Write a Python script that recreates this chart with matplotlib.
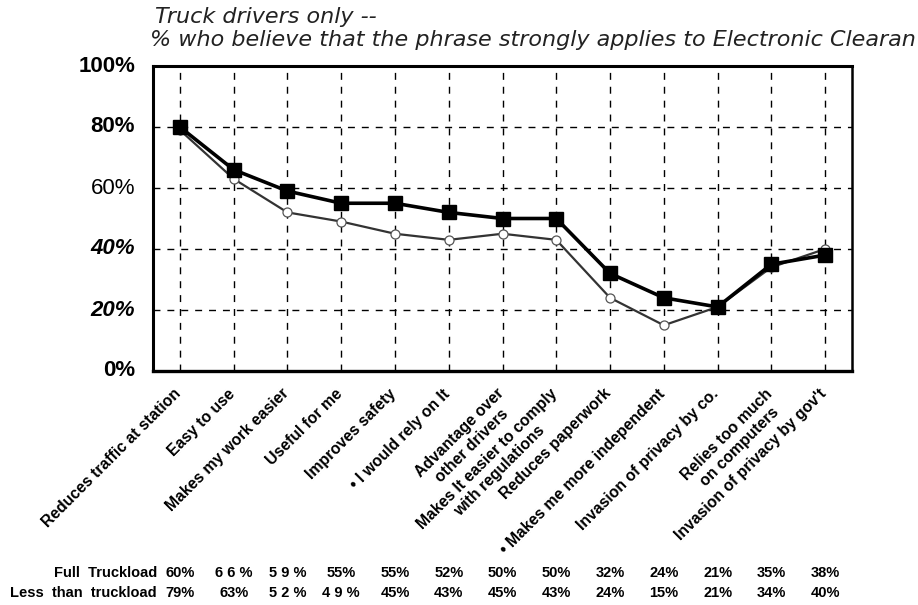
import matplotlib
matplotlib.use("Agg")
import matplotlib.pyplot as plt
import matplotlib.transforms as mtransforms

plt.rcParams['font.family'] = ['Liberation Sans', 'DejaVu Sans']

categories = [
    "Reduces traffic at station",
    "Easy to use",
    "Makes my work easier",
    "Useful for me",
    "Improves safety",
    "\u2022 I would rely on It",
    "Advantage over\nother drivers",
    "Makes It easier to comply\nwith regulations",
    "Reduces paperwork",
    "\u2022 Makes me more independent",
    "Invasion of privacy by co.",
    "Relies too much\non computers",
    "Invasion of privacy by gov't",
]
full_truckload = [80, 66, 59, 55, 55, 52, 50, 50, 32, 24, 21, 35, 38]
less_than_truckload = [79, 63, 52, 49, 45, 43, 45, 43, 24, 15, 21, 34, 40]
full_labels = ["60%", "6 6 %", "5 9 %", "55%", "55%", "52%", "50%", "50%",
               "32%", "24%", "21%", "35%", "38%"]
less_labels = ["79%", "63%", "5 2 %", "4 9 %", "45%", "43%", "45%", "43%",
               "24%", "15%", "21%", "34%", "40%"]
row_names = ["Full  Truckload", "Less  than  truckload"]
yticks = [0, 20, 40, 60, 80, 100]
ytick_labels = ["0%", "20%", "40%", "60%", "80%", "100%"]
title_lines = ["Truck drivers only --",
               "% who believe that the phrase strongly applies to Electronic Clearan"]

W, H = 918, 605
fig = plt.figure(figsize=(W / 100, H / 100), dpi=100)
ax = fig.add_axes([153 / W, 1 - 371 / H, (852 - 153) / W, (371 - 66) / H])

x = list(range(len(categories)))
ax.plot(x, less_than_truckload, color="#333333", lw=1.6, marker="o", ms=6.5,
        mfc="white", mec="#555555", mew=0.9, zorder=3)
ax.plot(x, full_truckload, color="black", lw=2.6, marker="s", ms=10,
        mfc="black", mec="black", zorder=4)

ax.set_xlim(-0.5, len(categories) - 0.5)
ax.set_ylim(0, 100)

for xi in x:
    ax.axvline(xi, color="black", lw=1.0, ls=(0, (5, 5)), zorder=1)
for yv in [20, 40, 60, 80]:
    ax.axhline(yv, color="black", lw=1.0, ls=(0, (5, 5)), zorder=1)

for side, lw in [("top", 2.2), ("left", 2.2), ("bottom", 2.4), ("right", 1.8)]:
    ax.spines[side].set_linewidth(lw)
    ax.spines[side].set_color("black")

ax.set_xticks(x)
ax.set_xticklabels([])
ax.tick_params(axis="x", length=0)
ax.set_yticks(yticks)
ax.set_yticklabels([])
ax.tick_params(axis="y", length=0)

# y tick labels with mixed styles
ystyles = {0: ("bold", "normal"), 20: ("bold", "italic"), 40: ("bold", "italic"),
           60: ("normal", "normal"), 80: ("bold", "normal"), 100: ("bold", "normal")}
ytrans = mtransforms.blended_transform_factory(fig.transFigure, ax.transData)
for yv, lab in zip(yticks, ytick_labels):
    w, s = ystyles[yv]
    ax.text(135 / W, yv, lab, transform=ytrans, ha="right", va="center",
            fontsize=16, fontweight=w, fontstyle=s, color="black")

# category labels
off = mtransforms.ScaledTranslation(0, -15 / 100, fig.dpi_scale_trans)
xtrans = mtransforms.blended_transform_factory(ax.transData, ax.transAxes) + off
for xi, lab in zip(x, categories):
    ax.text(xi - 0.12, 0, lab, transform=xtrans, rotation=45, ha="right", va="top",
            rotation_mode="anchor", multialignment="center",
            fontsize=11.3, fontweight="bold", color="black")

# table rows
ttrans = mtransforms.blended_transform_factory(ax.transData, fig.transFigure)
for row_y, name, labs in [(1 - 573 / H, row_names[0], full_labels),
                          (1 - 593 / H, row_names[1], less_labels)]:
    fig.text(157 / W, row_y, name, ha="right", va="center", fontsize=10.5,
             fontweight="bold")
    for xi, lab in zip(x, labs):
        ax.text(xi, row_y, lab, transform=ttrans, ha="center", va="center",
                fontsize=10.5, fontweight="bold", clip_on=False)

# title
fig.text(155 / W, 1 - 17 / H, title_lines[0], ha="left", va="center",
         fontsize=16, fontstyle="italic", color="#222222", family=["DejaVu Sans"])
fig.text(150 / W, 1 - 40 / H, title_lines[1], ha="left", va="center",
         fontsize=16, fontstyle="italic", color="#222222", family=["DejaVu Sans"])

fig.savefig("out.png", dpi=100)
